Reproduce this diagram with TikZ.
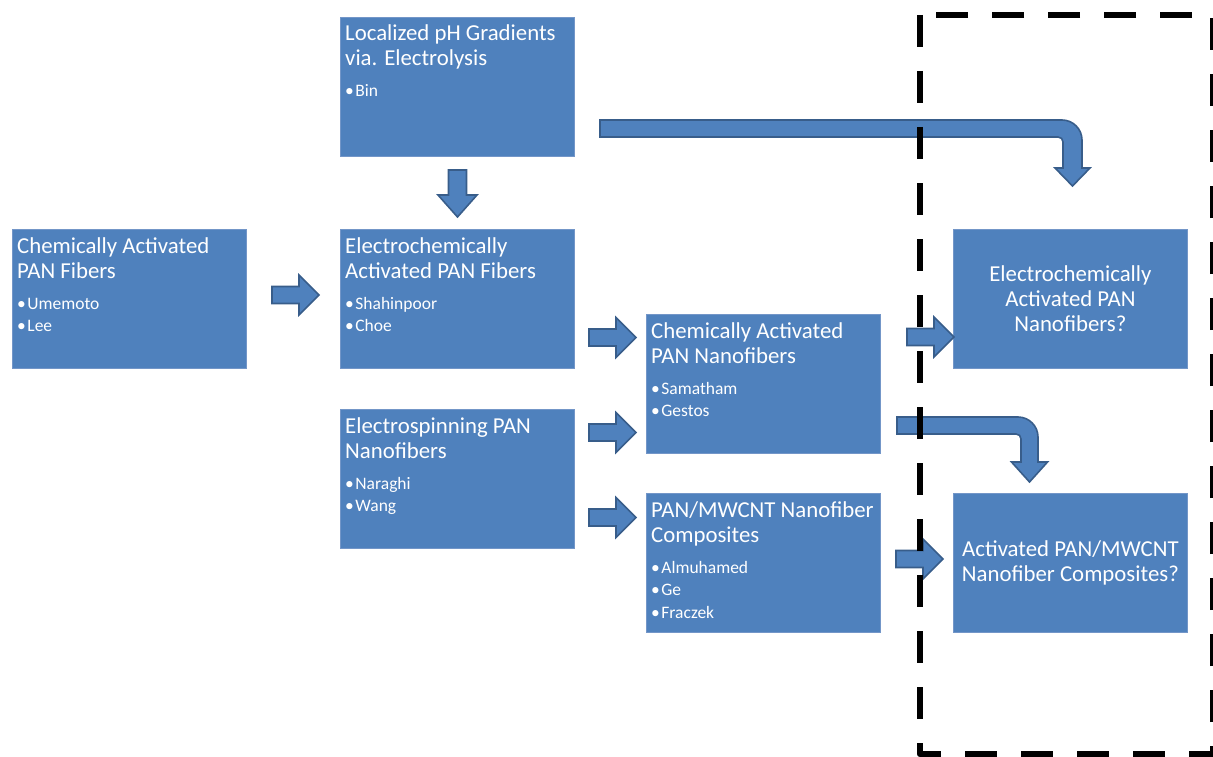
\documentclass[tikz,border=0pt]{standalone}
\usepackage{fontspec}
\setmainfont{Carlito}
\definecolor{boxblue}{HTML}{4F81BD}
\definecolor{arrowline}{HTML}{385D8A}
\definecolor{boxline}{HTML}{7396C8}
\tikzset{
  box/.style={fill=boxblue, draw=boxline, line width=0.8pt, minimum width=234pt, minimum height=139pt, anchor=north west, inner sep=0pt},
  cbox/.style={box, text=white, align=center, font=\fontsize{22.8}{25}\selectfont},
  ttl/.style={anchor=base west, inner sep=0pt, text=white},
  blk/.style={fill=boxblue, draw=arrowline, line width=1.6pt, line join=miter},
  rarrow/.pic={\draw[blk] (0,-8.5) -- (27,-8.5) -- (27,-20) -- (47,0) -- (27,20) -- (27,8.5) -- (0,8.5) -- cycle;},
  darrow/.pic={\draw[blk] (-9,0) -- (-9,25) -- (-19.5,25) -- (0,47) -- (19.5,25) -- (9,25) -- (9,0) -- cycle;},
  dashbox/.style={draw=black, line width=6.5pt, dash pattern=on 32pt off 24pt, line join=round}
}
\newcommand{\ttltext}[1]{\parbox[t]{228pt}{\raggedright\fontsize{22.8}{25}\selectfont #1}}
\newcommand{\bultext}[1]{\parbox[t]{228pt}{\raggedright\fontsize{17.5}{22.5}\selectfont #1}}
\newcommand{\bu}{•\hspace{1.5pt}}
\begin{document}
\begin{tikzpicture}[x=1pt,y=-1pt]
\useasboundingbox (0,0) rectangle (1213,757);
% boxes
\node[box] (A) at (340,17) {};
\node[box] (B) at (12,229) {};
\node[box] (C) at (340,229) {};
\node[box] (D) at (340,409) {};
\node[box] (E) at (646,314) {};
\node[box] (F) at (646,493) {};
\node[cbox] (G) at (953,229) {Electrochemically\\Activated PAN\\Nanofibers?};
\node[cbox] (H) at (953,493) {Activated PAN/MWCNT\\Nanofiber Composites?};
% texts
\node[ttl] (At) at ([xshift=5pt,yshift=-24pt]A.north west) {\ttltext{Localized pH Gradients\\via. Electrolysis}};
\node[ttl] (Ab) at ([xshift=5pt,yshift=-80pt]A.north west) {\bultext{\bu Bin}};
\node[ttl] (Bt) at ([xshift=5pt,yshift=-24pt]B.north west) {\ttltext{Chemically Activated\\PAN Fibers}};
\node[ttl] (Bb) at ([xshift=5pt,yshift=-80pt]B.north west) {\bultext{\bu Umemoto\\\bu Lee}};
\node[ttl] (Ct) at ([xshift=5pt,yshift=-24pt]C.north west) {\ttltext{Electrochemically\\Activated PAN Fibers}};
\node[ttl] (Cb) at ([xshift=5pt,yshift=-80pt]C.north west) {\bultext{\bu Shahinpoor\\\bu Choe}};
\node[ttl] (Dt) at ([xshift=5pt,yshift=-24pt]D.north west) {\ttltext{Electrospinning PAN\\Nanofibers}};
\node[ttl] (Db) at ([xshift=5pt,yshift=-80pt]D.north west) {\bultext{\bu Naraghi\\\bu Wang}};
\node[ttl] (Et) at ([xshift=5pt,yshift=-24pt]E.north west) {\ttltext{Chemically Activated\\PAN Nanofibers}};
\node[ttl] (Eb) at ([xshift=5pt,yshift=-80pt]E.north west) {\bultext{\bu Samatham\\\bu Gestos}};
\node[ttl] (Ft) at ([xshift=5pt,yshift=-24pt]F.north west) {\ttltext{PAN/MWCNT Nanofiber\\Composites}};
\node[ttl] (Fb) at ([xshift=5pt,yshift=-80pt]F.north west) {\bultext{\bu Almuhamed\\\bu Ge\\\bu Fraczek}};
% straight block arrows
\pic at (272,295) {rarrow};
\pic at (589,337.5) {rarrow};
\pic at (589,432.5) {rarrow};
\pic at (589,517.5) {rarrow};
\pic at (907,337) {rarrow};
\pic at (896,559) {rarrow};
\pic at (457.5,170) {darrow};
% bent block arrows
\draw[blk] (600,120) -- (1062,120) .. controls (1073,120) and (1082,129) .. (1082,140) -- (1082,168) -- (1090,168) -- (1072.5,186) -- (1055,168) -- (1063,168) -- (1063,142) .. controls (1063,139) and (1061,137) .. (1058,137) -- (600,137) -- cycle;
\draw[blk] (897,417) -- (1018,417) .. controls (1029,417) and (1038,426) .. (1038,437) -- (1038,462) -- (1047.5,462) -- (1029.5,482) -- (1011.5,462) -- (1021,462) -- (1021,439) .. controls (1021,436) and (1019,434) .. (1016,434) -- (897,434) -- cycle;
% dashed region
\draw[dashbox] (920,15) rectangle (1213,754);
\end{tikzpicture}
\end{document}
